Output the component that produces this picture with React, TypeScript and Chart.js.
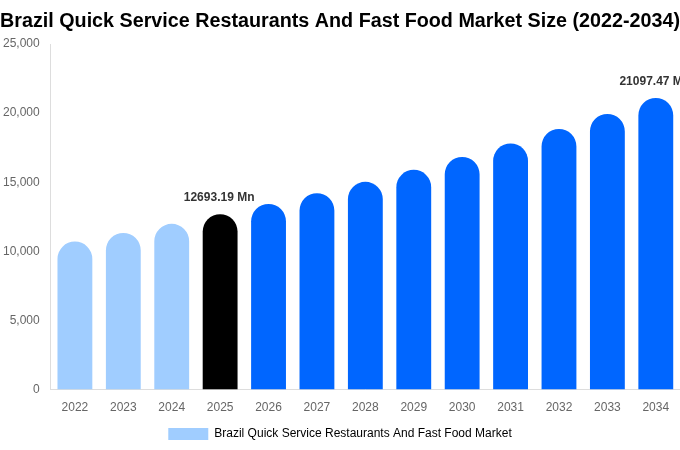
import React, { useEffect, useRef } from "react";
import { Chart, registerables } from "chart.js";

Chart.register(...registerables);

const years = ["2022","2023","2024","2025","2026","2027","2028","2029","2030","2031","2032","2033","2034"];
const marketSize = [10710, 11330, 11990, 12693.19, 13430, 14210, 15030, 15900, 16830, 17810, 18850, 19940, 21097.47];
const barColors = ["#a0cdff","#a0cdff","#a0cdff","#000000","#0066ff","#0066ff","#0066ff","#0066ff","#0066ff","#0066ff","#0066ff","#0066ff","#0066ff"];
const labelledIndexes = [3, 12];
const seriesName = "Brazil Quick Service Restaurants And Fast Food Market";
const titleText = "Brazil Quick Service Restaurants And Fast Food Market Size (2022-2034)";

const valueLabels = {
  id: "valueLabels",
  afterDatasetsDraw(chart: any) {
    const ctx = chart.ctx;
    const meta = chart.getDatasetMeta(0);
    ctx.save();
    ctx.font = "bold 12px 'Liberation Sans', Arial, sans-serif";
    ctx.fillStyle = "#333333";
    ctx.textAlign = "center";
    ctx.textBaseline = "middle";
    labelledIndexes.forEach((i) => {
      const el = meta.data[i];
      ctx.fillText(marketSize[i].toFixed(2) + " Mn", el.x - 1, el.y - 16);
    });
    ctx.restore();
  },
};

export default function App() {
  const ref = useRef<HTMLCanvasElement>(null);
  useEffect(() => {
    document.body.style.margin = "0";
    const chart = new Chart(ref.current!, {
      type: "bar",
      data: {
        labels: years,
        datasets: [
          {
            label: seriesName,
            data: marketSize,
            backgroundColor: barColors,
            borderRadius: { topLeft: 18, topRight: 18, bottomLeft: 0, bottomRight: 0 },
            borderSkipped: false,
            barPercentage: 0.8,
            categoryPercentage: 0.9,
          },
        ],
      },
      options: {
        animation: false,
        responsive: false,
        maintainAspectRatio: false,
        layout: { padding: 0 },
        plugins: {
          title: {
            display: true,
            text: titleText,
            color: "#000000",
            font: { family: "'Liberation Sans', Arial, sans-serif", size: 20, weight: "bold" },
            padding: { top: 9, bottom: 11 },
          },
          legend: {
            position: "bottom",
            labels: {
              color: "#666666",
              font: { family: "'Liberation Sans', Arial, sans-serif", size: 12 },
              generateLabels: () => [
                { text: seriesName, fillStyle: "#a0cdff", strokeStyle: "#a0cdff", lineWidth: 0, hidden: false, datasetIndex: 0 },
              ],
            },
          },
          tooltip: { enabled: false },
        },
        scales: {
          x: {
            grid: { display: false },
            border: { display: true, color: "#dddddd" },
            ticks: { color: "#666666", font: { family: "'Liberation Sans', Arial, sans-serif", size: 12 } },
          },
          y: {
            min: 0,
            max: 25000,
            grid: { display: false },
            border: { display: true, color: "#dddddd" },
            ticks: {
              stepSize: 5000,
              color: "#666666",
              font: { family: "'Liberation Sans', Arial, sans-serif", size: 12 },
              callback: (v: any) => Number(v).toLocaleString("en-US"),
            },
          },
        },
      },
      plugins: [valueLabels],
    });
    return () => chart.destroy();
  }, []);
  return <canvas ref={ref} width={680} height={450} style={{ display: "block" }} />;
}
